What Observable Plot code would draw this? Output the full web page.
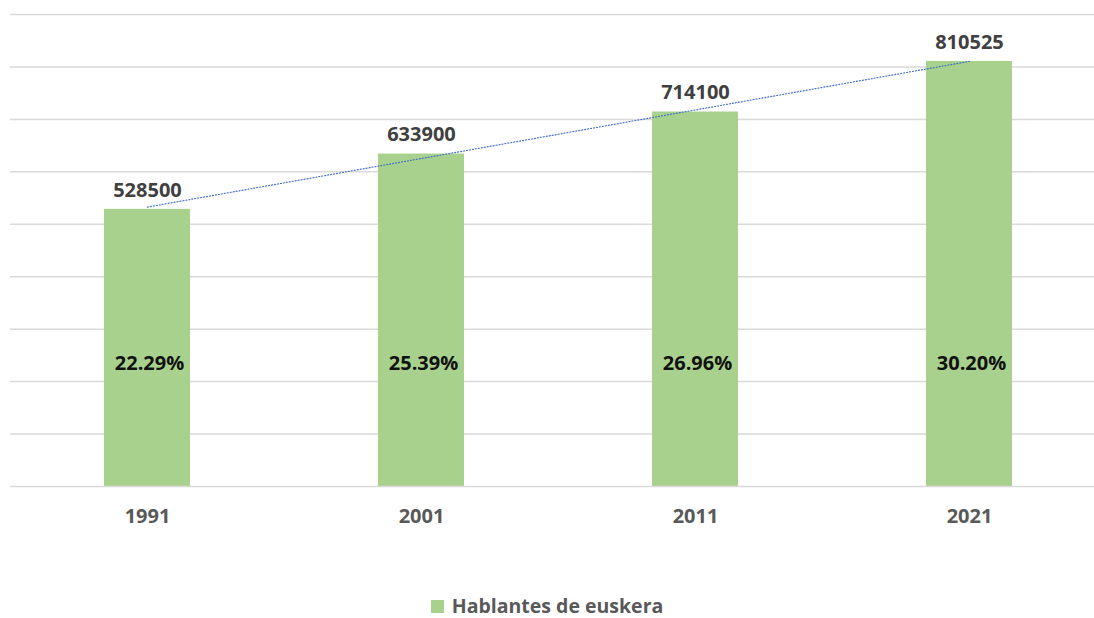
<!DOCTYPE html>
<html><head><meta charset="utf-8">
<script src="https://cdn.jsdelivr.net/npm/d3@7"></script>
<script src="https://cdn.jsdelivr.net/npm/@observablehq/plot@0.6"></script>
<style>
html,body{margin:0;padding:0;background:#fff;overflow:hidden;}
body{font-family:"Open Sans",sans-serif;width:1094px;height:618px;}
#legend{height:32px;display:flex;justify-content:center;align-items:center;gap:8px;color:#595959;font-weight:700;font-size:19.5px;line-height:1;font-family:"Open Sans",sans-serif;}
#legend .sw{width:13px;height:13px;background:#a9d18e;display:inline-block;}
</style></head><body>
<div id="chart"></div>
<div id="legend"><span class="sw"></span><span>Hablantes de euskera</span></div>
<script>
const years = ["1991", "2001", "2011", "2021"];
const speakers = [528500, 633900, 714100, 810525];
const shares = ["22.29%", "25.39%", "26.96%", "30.20%"];
const gridTicks = [100000, 200000, 300000, 400000, 500000, 600000, 700000, 800000, 900000];
const seriesName = "Hablantes de euskera";

// linear trendline (least squares) computed from the data
const idx = d3.range(speakers.length);
const mx = d3.mean(idx), my = d3.mean(speakers);
const slope = d3.sum(idx, i => (i - mx) * (speakers[i] - my)) / d3.sum(idx, i => (i - mx) ** 2);
const intercept = my - slope * mx;

const data = years.map((y, i) => ({
  year: y,
  speakers: speakers[i],
  share: shares[i],
  trend: intercept + slope * i
}));

const PCT_Y = 234500;

const chart = Plot.plot({
  width: 1094,
  height: 590,
  marginTop: 14,
  marginBottom: 104,
  marginLeft: 10,
  marginRight: 0,
  x: {domain: years, range: [8.6, 1107.6], paddingInner: 0.687, paddingOuter: 0.3435, align: 0.5, label: null, tickSize: 0, tickPadding: 22},
  y: {domain: [0, 900000], axis: null},
  style: {fontFamily: "Open Sans", fontSize: "20px", fontWeight: 700, color: "#595959", background: "#fff"},
  marks: [
    Plot.ruleY(gridTicks, {stroke: "#d9d9d9", strokeWidth: 1.5}),
    Plot.barY(data, {x: "year", y: "speakers", fill: "#a9d18e"}),
    Plot.ruleY([0], {stroke: "#d9d9d9", strokeWidth: 1.5}),
    Plot.line(data, {x: "year", y: "trend", stroke: "#4472c4", strokeWidth: 1.2, strokeDasharray: "1 2"}),
    Plot.text(data, {x: "year", y: "speakers", text: d => String(d.speakers), dy: -19, fill: "#404040", fontSize: 20, fontWeight: 700}),
    Plot.text(data, {x: "year", y: () => PCT_Y, text: "share", dx: 2, fill: "#111", fontSize: 20, fontWeight: 700})
  ]
});
document.getElementById("chart").appendChild(chart);
</script>
</body></html>
